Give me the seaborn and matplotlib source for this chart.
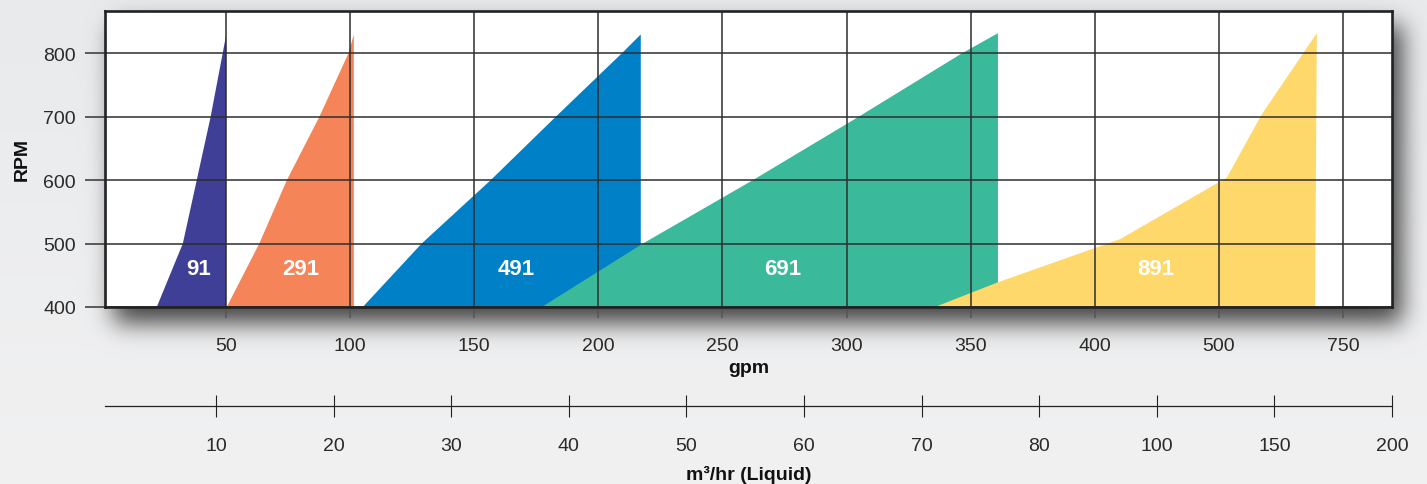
import math
import numpy as np
import matplotlib
matplotlib.use("Agg")
import matplotlib.pyplot as plt
from matplotlib.ticker import NullLocator
import seaborn as sns

# ---------------- data ----------------
gpm_ticks = [50, 100, 150, 200, 250, 300, 350, 400, 500, 750]
m3hr_ticks = [10, 20, 30, 40, 50, 60, 70, 80, 100, 150, 200]
rpm_ticks = [400, 500, 600, 700, 800]
models = ["91", "291", "491", "691", "891"]

# operating envelopes: left boundary (gpm vs rpm) then max-flow edge back to 400 rpm
gpm_91 = [22.1, 32.6, 38.2, 43.8, 50.0, 50.0]
rpm_91 = [400, 500, 600, 700, 828, 400]
gpm_291 = [50.3, 63.4, 74.5, 87.6, 99.3, 101.5, 101.5]
rpm_291 = [400, 500, 600, 700, 800, 830, 400]
gpm_491 = [105.1, 128.8, 156.6, 182.8, 209.4, 217.1, 217.1]
rpm_491 = [400, 500, 600, 700, 800, 830, 400]
gpm_691 = [177.2, 217.9, 262.2, 304.8, 346.4, 361.0, 361.0]
rpm_691 = [400, 500, 600, 700, 800, 832, 400]
gpm_891 = [335.6, 361.0, 400.0, 420.4, 515.8, 586.5, 697.3, 693.8]
rpm_891 = [400, 439, 493, 507, 604, 704, 832, 400]

# ---------------- style ----------------
colors = ["#3F3F98", "#F58558", "#0080C6", "#3BBA9B", "#FED86A"]
label_gpm = [39.1, 80.2, 167.1, 274.3, 449.4]
label_rpm = 460

sns.set_theme(style="white")
plt.rcParams["font.family"] = ["Liberation Sans", "DejaVu Sans"]

W, H = 1427, 485
fig = plt.figure(figsize=(W / 100, H / 100), dpi=100)

# background with soft drop shadow
erf_v = np.vectorize(math.erf)
def blur1d(t, a, b, s):
    return 0.5 * (erf_v((t - a) / (s * np.sqrt(2))) - erf_v((t - b) / (s * np.sqrt(2))))
xs = np.arange(W) + 0.5
ys = np.arange(H) + 0.5
sx = blur1d(xs, 114, 1402, 12)
sy = blur1d(ys, 26, 324, 12)
shadow = np.outer(sy, sx) * 0.72
top_c = np.array([0.912, 0.918, 0.926])
bot_c = np.array([0.945, 0.945, 0.948])
t = (ys / H)[:, None, None]
base = top_c * (1 - t) + bot_c * t
base = np.broadcast_to(base, (H, W, 3))
img = base * (1 - shadow[..., None])
bg = fig.add_axes([0, 0, 1, 1], zorder=-10)
bg.imshow(img, extent=[0, W, H, 0], aspect="auto", interpolation="bilinear")
bg.set_xlim(0, W)
bg.set_ylim(H, 0)
bg.axis("off")

# main axes with piecewise-linear gpm scale
ax = fig.add_axes([105 / W, (H - 308) / H, (1392 - 105) / W, (308 - 12) / H])
ax.set_facecolor("white")
bp_x = [0] + gpm_ticks + [1000]
bp_p = list(range(len(bp_x)))
def fwd(x):
    return np.interp(x, bp_x, bp_p)
def inv(p):
    return np.interp(p, bp_p, bp_x)
ax.set_xscale("function", functions=(fwd, inv))

series = [(gpm_91, rpm_91), (gpm_291, rpm_291), (gpm_491, rpm_491),
          (gpm_691, rpm_691), (gpm_891, rpm_891)]
for (gx, ry), c in zip(series, colors):
    ax.fill(gx, ry, color=c, lw=0, zorder=1)

for name, gx, c in zip(models, label_gpm, colors):
    ax.text(gx, label_rpm, name, color="white", fontweight="bold", fontsize=16,
            ha="center", va="center", zorder=5)

ax.set_xlim(inv(0.025), inv(10.395))
ax.set_ylim(400, 867)
ax.set_xticks(gpm_ticks)
ax.set_xticklabels([str(v) for v in gpm_ticks])
ax.xaxis.set_minor_locator(NullLocator())
ax.set_yticks(rpm_ticks)
ax.set_yticklabels([str(v) for v in rpm_ticks])

ax.grid(True, color="#2e2e2e", lw=1.1)
ax.set_axisbelow(False)
for sp in ax.spines.values():
    sp.set_visible(True)
    sp.set_color("#222222")
    sp.set_linewidth(1.9)
    sp.set_zorder(6)

ax.tick_params(axis="x", which="major", direction="out", length=8, width=1.1,
               color="#555555", pad=13.5, labelsize=14, labelcolor="#2a2a2a", bottom=True)
ax.tick_params(axis="y", which="major", direction="out", length=14.4, width=1.1,
               color="#333333", pad=6.5, labelsize=14, labelcolor="#2a2a2a", left=True)

ax.set_xlabel("gpm", fontweight="bold", fontsize=14, color="#111111")
ax.xaxis.set_label_coords(0.5, -0.175)
ax.set_ylabel("RPM", fontweight="bold", fontsize=14, color="#111111")
ax.yaxis.set_label_coords(-0.0575, 0.5)

# secondary flow axis (m3/hr)
ax2 = fig.add_axes([105 / W, (H - 407) / H, (1392 - 105) / W, 0.001])
ax2.patch.set_visible(False)
for k in ["top", "left", "right"]:
    ax2.spines[k].set_visible(False)
ax2.spines["bottom"].set_color("#222222")
ax2.spines["bottom"].set_linewidth(0.9)
ax2.set_xlim(0.056, 11)
ax2.set_xticks(range(1, len(m3hr_ticks) + 1))
ax2.set_xticklabels([str(v) for v in m3hr_ticks])
ax2.set_yticks([])
ax2.tick_params(axis="x", direction="inout", length=16, width=0.8, color="#222222",
                pad=14.4, labelsize=14, labelcolor="#2a2a2a", bottom=True)
ax2.set_xlabel("m³/hr (Liquid)", fontweight="bold", fontsize=14, color="#111111")
ax2.xaxis.label.set_verticalalignment("top")
ax2.xaxis.set_label_coords((105 + 1287 / 2) / W, (H - 465.8) / H, transform=fig.transFigure)

fig.savefig("out.png", dpi=100)
